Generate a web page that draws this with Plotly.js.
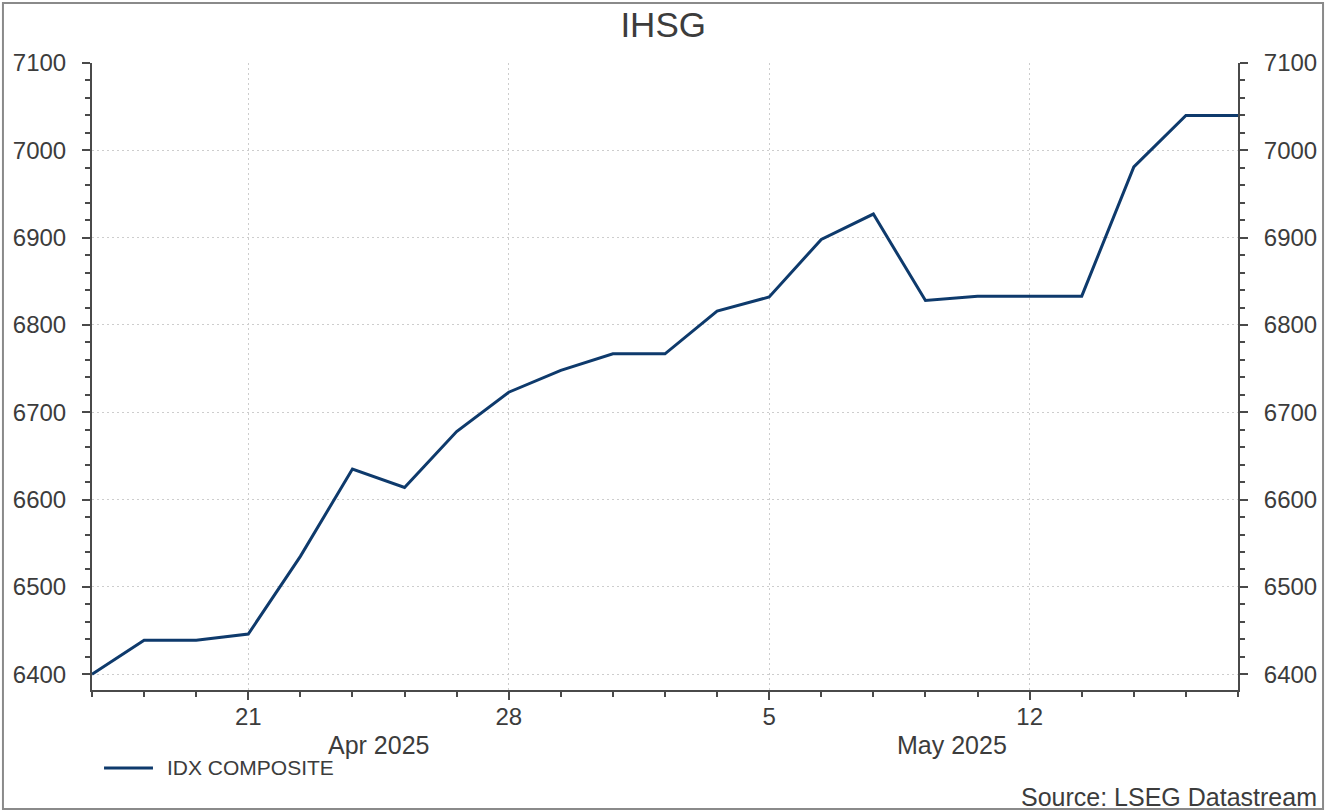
<!DOCTYPE html>
<html>
<head>
<meta charset="utf-8">
<script src="https://cdn.plot.ly/plotly-3.0.1.min.js"></script>
<style>
  html, body { margin: 0; padding: 0; background: #ffffff; }
  #chart { width: 1329px; height: 812px; }
</style>
</head>
<body>
<div id="chart"></div>
<script>
// Business days shown on the chart
const dates = [
  '2025-04-16','2025-04-17','2025-04-18',
  '2025-04-21','2025-04-22','2025-04-23','2025-04-24','2025-04-25',
  '2025-04-28','2025-04-29','2025-04-30','2025-05-01','2025-05-02',
  '2025-05-05','2025-05-06','2025-05-07','2025-05-08','2025-05-09',
  '2025-05-12','2025-05-13','2025-05-14','2025-05-15','2025-05-16'
];
// IDX COMPOSITE closing values
const idxComposite = [
  6400, 6439, 6439,
  6446, 6535, 6635, 6614, 6678,
  6723, 6748, 6767, 6767, 6816,
  6832, 6898, 6927, 6828, 6833,
  6833, 6833, 6981, 7040, 7040
];
const seriesName = 'IDX COMPOSITE';
const majorTickVals = ['2025-04-21','2025-04-28','2025-05-05','2025-05-12'];
const majorTickText = ['21','28','5','12'];
const monthLabels = ['Apr 2025','May 2025'];
const monthLabelPos = ['2025-04-23 12:00','2025-05-08 12:00'];

const textColor = '#3c3c3c';
const axisColor = '#4a4a4a';
const gridColor = '#cdcdcd';
const lineColor = '#0e3a6c';
const fontFam = '"Liberation Sans", Arial, sans-serif';

const trace = {
  x: dates,
  y: idxComposite,
  type: 'scatter',
  mode: 'lines',
  name: seriesName,
  line: { color: lineColor, width: 3 },
  showlegend: false,
  hoverinfo: 'x+y'
};

const yCommon = {
  range: [6382, 7100],
  tickmode: 'linear',
  tick0: 6400,
  dtick: 100,
  ticks: 'outside',
  ticklen: 8,
  tickwidth: 2,
  tickcolor: axisColor,
  showline: true,
  linecolor: axisColor,
  linewidth: 2,
  zeroline: false,
  tickfont: { family: fontFam, size: 24, color: textColor },
  ticklabelstandoff: 11,
  minor: { dtick: 20, tick0: 6400, ticks: 'outside', ticklen: 5, tickwidth: 2, tickcolor: axisColor, showgrid: false }
};

const layout = {
  width: 1329,
  height: 812,
  margin: { l: 92, r: 91, t: 63, b: 122 },
  paper_bgcolor: '#ffffff',
  plot_bgcolor: '#ffffff',
  title: {
    text: 'IHSG',
    font: { family: fontFam, size: 35, color: textColor },
    x: 0.499, xanchor: 'center',
    y: 0.969, yanchor: 'middle'
  },
  showlegend: false,
  xaxis: {
    type: 'date',
    range: ['2025-04-16', '2025-05-16'],
    rangebreaks: [{ bounds: ['sat', 'mon'] }],
    tickmode: 'array',
    tickvals: majorTickVals,
    ticktext: majorTickText,
    ticks: 'outside',
    ticklen: 8,
    tickwidth: 2,
    tickcolor: axisColor,
    showline: true,
    linecolor: axisColor,
    linewidth: 2,
    showgrid: true,
    gridcolor: gridColor,
    griddash: '2px,3px',
    gridwidth: 1,
    zeroline: false,
    tickfont: { family: fontFam, size: 24, color: textColor },
    ticklabelstandoff: -4,
    minor: { tickmode: 'array', tickvals: dates, ticks: 'outside', ticklen: 5, tickwidth: 2, tickcolor: axisColor, showgrid: false }
  },
  yaxis: Object.assign({}, yCommon, {
    side: 'left',
    showgrid: true,
    gridcolor: gridColor,
    griddash: '2px,3px',
    gridwidth: 1
  }),
  yaxis2: Object.assign({}, yCommon, {
    side: 'right',
    overlaying: 'y',
    matches: 'y',
    showgrid: false
  }),
  annotations: [
    {
      xref: 'x', yref: 'paper', x: monthLabelPos[0], y: -0.088,
      text: monthLabels[0], showarrow: false, xanchor: 'center', yanchor: 'middle',
      font: { family: fontFam, size: 25, color: textColor }
    },
    {
      xref: 'x', yref: 'paper', x: monthLabelPos[1], y: -0.088,
      text: monthLabels[1], showarrow: false, xanchor: 'center', yanchor: 'middle',
      font: { family: fontFam, size: 25, color: textColor }
    },
    {
      // legend label
      xref: 'paper', yref: 'paper', x: 0.0637, y: -0.1244,
      text: seriesName, showarrow: false, xanchor: 'left', yanchor: 'middle',
      font: { family: fontFam, size: 21, color: textColor }
    },
    {
      xref: 'paper', yref: 'paper', x: 1.0707, y: -0.1707,
      text: 'Source: LSEG Datastream', showarrow: false, xanchor: 'right', yanchor: 'middle',
      font: { family: fontFam, size: 25, color: textColor }
    }
  ],
  shapes: [
    {
      // legend swatch
      type: 'line', xref: 'paper', yref: 'paper',
      x0: 0.0105, x1: 0.0532, y0: -0.1244, y1: -0.1244,
      line: { color: lineColor, width: 3 }
    },
    {
      type: 'rect', xref: 'paper', yref: 'paper',
      x0: -0.0777, x1: 1.0742, y0: -0.1898, y1: 1.0957,
      line: { color: '#8a8a8a', width: 2 },
      fillcolor: 'rgba(0,0,0,0)',
      layer: 'below'
    }
  ]
};

// An invisible companion trace so the right-hand axis is rendered
const rightAxisTrace = {
  x: dates, y: idxComposite, type: 'scatter', mode: 'lines', yaxis: 'y2',
  line: { color: 'rgba(0,0,0,0)', width: 0 }, showlegend: false, hoverinfo: 'skip'
};

Plotly.newPlot('chart', [trace, rightAxisTrace], layout, { displayModeBar: false, responsive: false });
</script>
</body>
</html>
